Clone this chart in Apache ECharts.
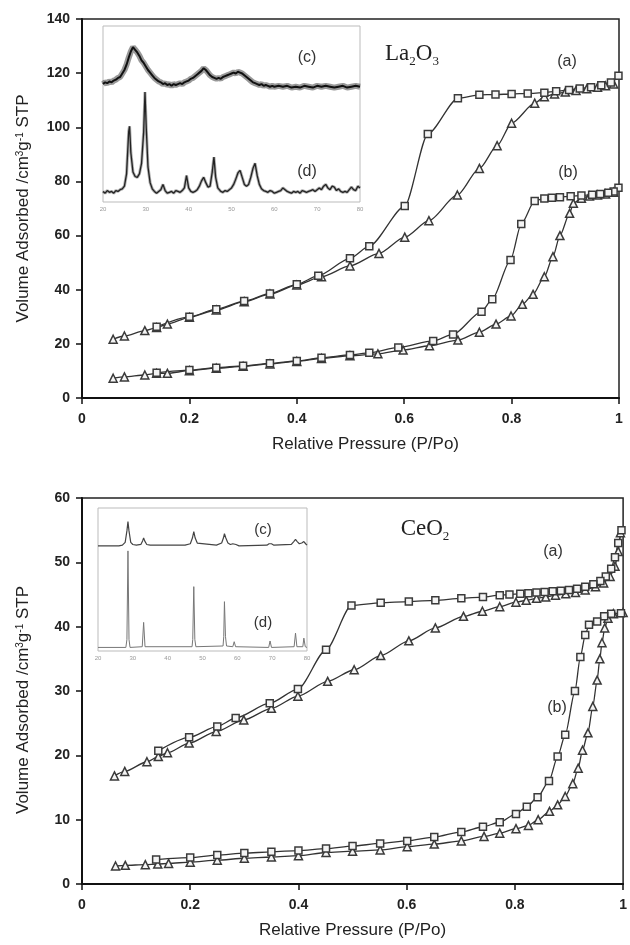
<!DOCTYPE html>
<html>
<head>
<meta charset="utf-8">
<script src="https://cdn.jsdelivr.net/npm/echarts@6/dist/echarts.min.js"></script>
<style>
  html, body { margin: 0; padding: 0; background: #fff; }
  #chart { width: 630px; height: 945px; }
</style>
</head>
<body>
<div id="chart"></div>
<script>
// La2O3 isotherms, [P/Po, volume]
const laA_ads = [[0.058,21.7],[0.079,22.9],[0.117,24.9],[0.139,26.0],[0.159,27.3],[0.2,29.8],[0.25,32.5],[0.302,35.6],[0.35,38.4],[0.4,41.7],[0.446,44.8],[0.499,48.8],[0.553,53.4],[0.601,59.4],[0.646,65.5],[0.699,75.0],[0.74,84.8],[0.773,93.2],[0.80,101.5],[0.843,108.9],[0.861,111.3],[0.88,112.3],[0.90,113.0],[0.92,113.6],[0.94,114.2],[0.96,114.8],[0.975,115.3],[0.99,116.0]];
const laA_des = [[0.999,119.0],[0.985,116.5],[0.967,115.5],[0.948,114.8],[0.927,114.3],[0.907,113.8],[0.883,113.3],[0.861,112.8],[0.83,112.5],[0.80,112.3],[0.77,112.1],[0.74,112.0],[0.70,110.7],[0.644,97.5],[0.601,70.9],[0.535,56.1],[0.499,51.6],[0.44,45.2],[0.4,42.0],[0.35,38.6],[0.302,35.8],[0.25,32.8],[0.2,30.0],[0.139,26.3]];
const laB_ads = [[0.058,7.3],[0.079,7.8],[0.117,8.5],[0.139,9.1],[0.159,9.1],[0.2,10.1],[0.25,11.0],[0.3,11.7],[0.35,12.6],[0.4,13.5],[0.446,14.6],[0.499,15.6],[0.551,16.3],[0.598,17.7],[0.647,19.3],[0.70,21.4],[0.74,24.3],[0.771,27.3],[0.799,30.3],[0.82,34.6],[0.84,38.3],[0.861,44.8],[0.877,52.2],[0.89,60.0],[0.908,68.2],[0.915,71.9],[0.93,73.8],[0.945,74.6],[0.96,75.0],[0.975,75.4],[0.99,76.0]];
const laB_des = [[0.999,77.7],[0.99,76.3],[0.98,75.8],[0.965,75.4],[0.95,75.1],[0.93,74.8],[0.91,74.5],[0.89,74.2],[0.875,74.0],[0.861,73.7],[0.843,72.8],[0.818,64.3],[0.798,51.0],[0.764,36.5],[0.744,31.9],[0.691,23.5],[0.654,21.1],[0.589,18.7],[0.535,16.7],[0.499,15.9],[0.446,14.9],[0.4,13.7],[0.35,12.8],[0.3,11.9],[0.25,11.2],[0.2,10.3],[0.139,9.3]];

// CeO2 isotherms
const ceA_ads = [[0.060,16.8],[0.079,17.5],[0.120,19.0],[0.141,19.8],[0.158,20.4],[0.198,21.9],[0.248,23.7],[0.299,25.5],[0.350,27.3],[0.399,29.2],[0.454,31.5],[0.503,33.3],[0.552,35.5],[0.604,37.8],[0.653,39.8],[0.705,41.6],[0.740,42.4],[0.772,43.1],[0.802,43.8],[0.821,44.1],[0.84,44.4],[0.857,44.6],[0.875,44.9],[0.894,45.1],[0.912,45.3],[0.93,45.7],[0.949,46.2],[0.964,46.8],[0.976,47.8],[0.985,49.4],[0.991,51.7],[0.995,54.6]];
const ceA_des = [[0.997,55.0],[0.991,53.0],[0.985,50.8],[0.978,49.0],[0.968,47.8],[0.958,47.1],[0.945,46.6],[0.93,46.2],[0.915,45.9],[0.9,45.7],[0.885,45.6],[0.87,45.5],[0.855,45.4],[0.84,45.3],[0.825,45.2],[0.81,45.1],[0.79,45.0],[0.772,44.9],[0.741,44.6],[0.701,44.4],[0.653,44.1],[0.604,43.9],[0.552,43.7],[0.498,43.3],[0.451,36.4],[0.399,30.3],[0.347,28.1],[0.284,25.8],[0.25,24.5],[0.198,22.8],[0.141,20.7]];
const ceB_ads = [[0.062,2.8],[0.08,2.9],[0.117,3.0],[0.14,3.1],[0.16,3.2],[0.2,3.4],[0.25,3.7],[0.3,4.0],[0.35,4.2],[0.4,4.4],[0.451,4.9],[0.5,5.1],[0.551,5.3],[0.601,5.8],[0.651,6.2],[0.701,6.7],[0.743,7.4],[0.772,7.9],[0.802,8.6],[0.825,9.1],[0.843,10.0],[0.864,11.3],[0.879,12.3],[0.893,13.6],[0.907,15.6],[0.917,18.0],[0.925,20.8],[0.935,23.5],[0.944,27.6],[0.952,31.7],[0.957,35.0],[0.961,37.5],[0.966,39.8],[0.972,41.3],[0.982,42.0],[1.0,42.2]];
const ceB_des = [[0.996,42.1],[0.978,42.0],[0.965,41.6],[0.952,40.8],[0.937,40.3],[0.93,38.7],[0.921,35.3],[0.911,30.0],[0.893,23.2],[0.879,19.8],[0.863,16.0],[0.842,13.5],[0.822,12.0],[0.802,10.9],[0.772,9.6],[0.741,8.9],[0.701,8.1],[0.651,7.3],[0.601,6.7],[0.551,6.3],[0.5,5.9],[0.451,5.5],[0.40,5.2],[0.35,5.0],[0.30,4.8],[0.25,4.5],[0.2,4.1],[0.137,3.8]];

// XRD insets, [2theta, relative intensity 0-100 of inset height]
const laXrdC = [[20,67],[20.5,68],[21,67.5],[21.5,68.5],[22,68],[22.5,69],[23,69.5],[23.5,70.5],[24,71],[24.5,73],[25,75],[25.5,78],[26,82],[26.5,85.5],[27,88],[27.5,86.5],[28,85],[28.5,83],[29,80.5],[29.5,79],[30,77],[30.5,75],[31,73.5],[31.5,72],[32,70.5],[32.5,69.5],[33,68.5],[33.5,68],[34,67],[34.5,67.5],[35,66.5],[35.5,67],[36,66],[36.5,67],[37,66.5],[37.5,67],[38,67.5],[38.5,67],[39,68],[39.5,68.5],[40,69],[40.5,70],[41,70.5],[41.5,71.5],[42,72.5],[42.5,73.5],[43,74.5],[43.5,76],[44,75],[44.5,73.5],[45,72],[45.5,71],[46,70.5],[46.5,70],[47,70.5],[47.5,70],[48,71],[48.5,71.5],[49,72],[49.5,72.5],[50,73],[50.5,73.5],[51,73],[51.5,74],[52,73.5],[52.5,73],[53,72],[53.5,71],[54,70],[54.5,69],[55,68],[55.5,67.5],[56,67],[56.5,66.5],[57,67],[57.5,66],[58,66.5],[58.5,66],[59,65.5],[59.5,66],[60,65.5],[61,66],[62,65.5],[63,66],[64,65],[65,65.5],[66,65],[67,66],[68,65.5],[69,65],[70,66],[71,65.5],[72,66],[73,65.5],[74,65],[75,65.5],[76,66],[77,65],[78,65.5],[79,66],[80,65.5]];
const laXrdD = [[20,6],[20.5,5],[21,6.5],[21.5,5.5],[22,6],[22.5,5],[23,6.5],[23.5,6],[24,7],[24.5,7.5],[25,9],[25.5,16],[26,40],[26.2,43],[26.5,28],[27,17],[27.5,14.5],[28,14],[28.5,16],[29,22],[29.5,40],[29.8,62.5],[30.1,42],[30.5,20],[31,11],[31.5,7.5],[32,6],[32.5,5],[33,6],[33.5,7],[34,10],[34.5,6.5],[35,5],[35.5,5.5],[36,6],[36.5,5],[37,6.5],[37.5,6],[38,5.5],[38.5,6.5],[39,8],[39.5,15],[40,8],[40.5,6],[41,5.5],[41.5,6],[42,7],[42.5,9],[43,12],[43.5,14],[44,11],[44.5,8.5],[45,9],[45.5,17],[45.9,25.5],[46.3,14],[46.8,8],[47.5,6],[48,5.5],[48.5,6.5],[49,6],[49.5,7],[50,8],[50.5,10],[51,13],[51.5,16.5],[52,18],[52.5,14],[53,10],[53.5,9],[54,10],[54.5,14],[55,19],[55.5,22],[56,15],[56.5,10],[57,7.5],[57.5,6.5],[58,6],[58.5,5.5],[59,6.5],[59.5,6],[60,5],[60.5,5.5],[61,6],[61.5,6.5],[62,8],[62.5,7],[63,6],[63.5,5.5],[64,5],[64.5,6],[65,5.5],[65.5,6],[66,5],[66.5,6.5],[67,6],[67.5,5.5],[68,6],[68.5,6.5],[69,7],[69.5,6],[70,7],[70.5,8],[71,7],[71.5,9],[72,10],[72.5,8],[73,7],[73.5,9],[74,8.5],[74.5,6.5],[75,7.5],[75.5,6],[76,5.5],[76.5,6],[77,5.5],[77.5,7],[78,8.5],[78.5,7],[79,6.5],[79.5,9],[80,8]];
const ceXrdC = [[20,73.5],[26,73.5],[27,74],[27.8,76],[28.3,84],[28.6,90.5],[28.9,84],[29.4,76],[30,74.5],[31,74],[32.3,74.5],[32.8,77],[33.1,79],[33.4,77],[34,74.5],[35,74],[45,74],[46.5,75],[47.1,79],[47.5,83.5],[47.9,79],[48.5,75.5],[49,74.5],[54,74],[55.5,75.5],[56,79],[56.3,82],[56.7,79],[57.3,75.5],[58,74.5],[58.7,75],[59.1,75.5],[59.6,74.5],[60.5,73.5],[68.5,74],[69.1,75],[69.4,76],[69.8,75],[70.5,74],[75.5,74.5],[76.2,76.5],[76.7,78],[77.2,76.5],[77.8,75],[78.5,75.5],[79.1,76.5],[79.6,75],[80,74]];
const ceXrdD = [[20,2.5],[28,2.5],[28.3,8],[28.6,70],[28.9,8],[29.2,2.5],[32.7,3],[33.1,20],[33.5,3],[47,3],[47.2,8],[47.5,45],[47.8,8],[48.1,3],[55.9,3.5],[56.1,10],[56.3,34.5],[56.6,10],[56.9,3.5],[58.7,3],[59.1,6.5],[59.5,3],[69,2.5],[69.4,7],[69.8,2.5],[76.3,3],[76.7,12.5],[77.1,3],[78.8,3],[79.1,9],[79.5,3],[80,2.5]];

const xTicks = { min: 0, max: 1, interval: 0.2 };
const laYTicks = { min: 0, max: 140, interval: 20 };
const ceYTicks = { min: 0, max: 60, interval: 10 };

const chart = echarts.init(document.getElementById('chart'));
const font = '"Liberation Sans", Arial, sans-serif';
const serif = '"Liberation Serif", "Times New Roman", serif';

const yName = '{t|Volume Adsorbed /cm}{s|3}{t|g}{s|-1}{t| STP}';
const yNameRich = {
  t: { fontSize: 17, fontFamily: font, color: '#222' },
  s: { fontSize: 10, fontFamily: font, color: '#222', verticalAlign: 'top' }
};

function mainX(grid, padLeft) {
  return {
    type: 'value', gridIndex: grid, ...xTicks,
    name: 'Relative Pressure (P/Po)', nameLocation: 'middle', nameGap: 38,
    nameTextStyle: { fontSize: 17, fontFamily: font, color: '#222', padding: [0, 0, 0, padLeft] },
    axisLine: { onZero: false, lineStyle: { color: '#111', width: 2 } },
    axisTick: { inside: false, length: 6, lineStyle: { color: '#111', width: 1.5 } },
    axisLabel: { fontSize: 14, fontWeight: 'bold', fontFamily: font, color: '#222', margin: 14 },
    splitLine: { show: false }
  };
}
function mainY(grid, ticks, padRight) {
  return {
    type: 'value', gridIndex: grid, ...ticks,
    name: yName, nameLocation: 'middle', nameGap: 50, nameRotate: 90,
    nameTextStyle: { rich: yNameRich, padding: [0, padRight, 0, 0] },
    axisLine: { onZero: false, lineStyle: { color: '#111', width: 2 } },
    axisTick: { inside: false, length: 6, lineStyle: { color: '#111', width: 1.5 } },
    axisLabel: { fontSize: 14, fontWeight: 'bold', fontFamily: font, color: '#222', margin: 12 },
    splitLine: { show: false }
  };
}
function insetX(grid) {
  return {
    type: 'value', gridIndex: grid, min: 20, max: 80, interval: 10,
    axisLine: { show: false }, axisTick: { show: false }, splitLine: { show: false },
    axisLabel: { fontSize: 6, color: '#999', margin: 4, fontFamily: font, showMinLabel: true, showMaxLabel: true }
  };
}
function insetY(grid) {
  return { type: 'value', gridIndex: grid, min: 0, max: 100, show: false, splitLine: { show: false } };
}
function iso(data, grid, symbol) {
  return {
    type: 'line', data: data, xAxisIndex: grid, yAxisIndex: grid,
    symbol: symbol, symbolSize: symbol === 'rect' ? 7 : 8, showSymbol: true,
    smooth: 0.25, smoothMonotone: 'x',
    lineStyle: { color: '#333', width: 1.3 },
    itemStyle: { color: '#f4f4f4', borderColor: '#3a3a3a', borderWidth: 1.5 },
    animation: false, z: 3
  };
}
function xrd(data, grid, color, width, opacity) {
  return {
    type: 'line', data: data, xAxisIndex: grid, yAxisIndex: grid,
    showSymbol: false, symbol: 'none',
    lineStyle: { color: color, width: width, opacity: opacity },
    animation: false, z: 4
  };
}
function label(text, x, y, size) {
  return { type: 'text', x: x, y: y, z: 10,
    style: { text: text, fontSize: size, fontFamily: font, fill: '#333', align: 'center', verticalAlign: 'middle' } };
}
function formula(parts, x, y) {
  return { type: 'text', x: x, y: y, z: 10,
    style: {
      text: parts, align: 'center', verticalAlign: 'middle',
      rich: {
        m: { fontSize: 23, fontFamily: serif, fill: '#222', lineHeight: 28, verticalAlign: 'middle' },
        s: { fontSize: 13, fontFamily: serif, fill: '#222', lineHeight: 28, verticalAlign: 'bottom' }
      }
    } };
}

chart.setOption({
  backgroundColor: '#fff',
  animation: false,
  grid: [
    { left: 82, top: 19, width: 537, height: 379, show: true, borderColor: '#222', borderWidth: 1.5, backgroundColor: 'transparent' },
    { left: 82, top: 498, width: 546, height: 386, show: true, borderColor: '#222', borderWidth: 1.5, backgroundColor: 'transparent' },
    { left: 103, top: 26, width: 257, height: 176, show: true, borderColor: '#bbb', borderWidth: 1, backgroundColor: '#fff', z: 2 },
    { left: 98, top: 508, width: 209, height: 143, show: true, borderColor: '#bbb', borderWidth: 1, backgroundColor: '#fff', z: 2 }
  ],
  xAxis: [mainX(0, 30), mainX(1, 0), insetX(2), insetX(3)],
  yAxis: [mainY(0, laYTicks, 0), mainY(1, ceYTicks, 18), insetY(2), insetY(3)],
  series: [
    iso(laA_ads, 0, 'triangle'), iso(laA_des, 0, 'rect'),
    iso(laB_ads, 0, 'triangle'), iso(laB_des, 0, 'rect'),
    iso(ceA_ads, 1, 'triangle'), iso(ceA_des, 1, 'rect'),
    iso(ceB_ads, 1, 'triangle'), iso(ceB_des, 1, 'rect'),
    xrd(laXrdC, 2, '#555', 6, 0.6), xrd(laXrdC, 2, '#111', 2, 1),
    xrd(laXrdD, 2, '#777', 3, 0.6), xrd(laXrdD, 2, '#222', 1.3, 1),
    xrd(ceXrdC, 3, '#444', 1.2, 1),
    xrd(ceXrdD, 3, '#777', 1, 1)
  ],
  graphic: [
    label('(c)', 307, 58, 16), label('(d)', 307, 172, 16),
    formula('{m|La}{s|2}{m|O}{s|3}', 412, 54),
    label('(a)', 567, 62, 16), label('(b)', 568, 173, 16),
    label('(c)', 263, 530, 15), label('(d)', 263, 623, 15),
    formula('{m|CeO}{s|2}', 425, 529),
    label('(a)', 553, 552, 16), label('(b)', 557, 708, 16)
  ]
});
</script>
</body>
</html>
